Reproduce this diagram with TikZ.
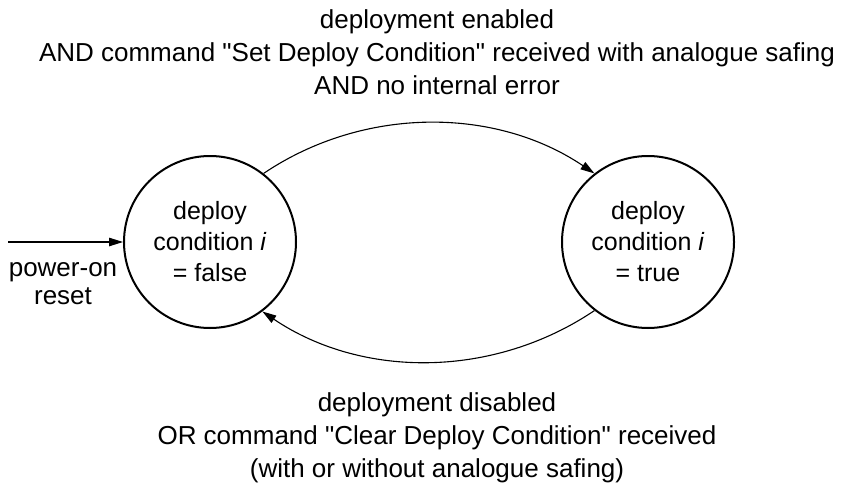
\documentclass[tikz,border=0pt]{standalone}
\usepackage{fontspec}
\setmainfont{Liberation Sans}[Ligatures=TeXOff]
\usetikzlibrary{arrows.meta}

\begin{document}
\begin{tikzpicture}[x=1pt,y=1pt,
  state/.style={circle, draw, line width=2pt, minimum size=172pt, inner sep=0pt,
    align=center, font=\fontsize{25}{31}\selectfont},
  label/.style={align=center, font=\fontsize{26}{33}\selectfont, inner sep=0pt},
  trans/.style={line width=1.1pt, -{Triangle[length=14pt,width=8.5pt]}}]
  \useasboundingbox (0,0) rectangle (842,483);

  % the two states
  \node[state] (off) at (210,241) {deploy\\condition \textit{i}\\= false};
  \node[state] (on)  at (648,241) {deploy\\condition \textit{i}\\= true};

  % initial transition
  \coordinate (start) at (8,241);
  \draw[trans] (start) -- (off.west);
  \node[label, font=\fontsize{26}{28}\selectfont] (por) at (63,199) {power-on\\reset};

  % transitions between the states
  \draw[trans] (off.52) to[out=34, in=146, looseness=0.93] (on.128);
  \draw[trans] (on.-128) to[out=-146, in=-34, looseness=0.93] (off.-53);

  % transition conditions
  \node[label] (setcond) at (437,431) {deployment enabled\\AND command "Set Deploy Condition" received with analogue safing\\AND no internal error};
  \node[label] (clrcond) at (437,45) {deployment disabled\\OR command "Clear Deploy Condition" received\\(with or without analogue safing)};
\end{tikzpicture}
\end{document}
